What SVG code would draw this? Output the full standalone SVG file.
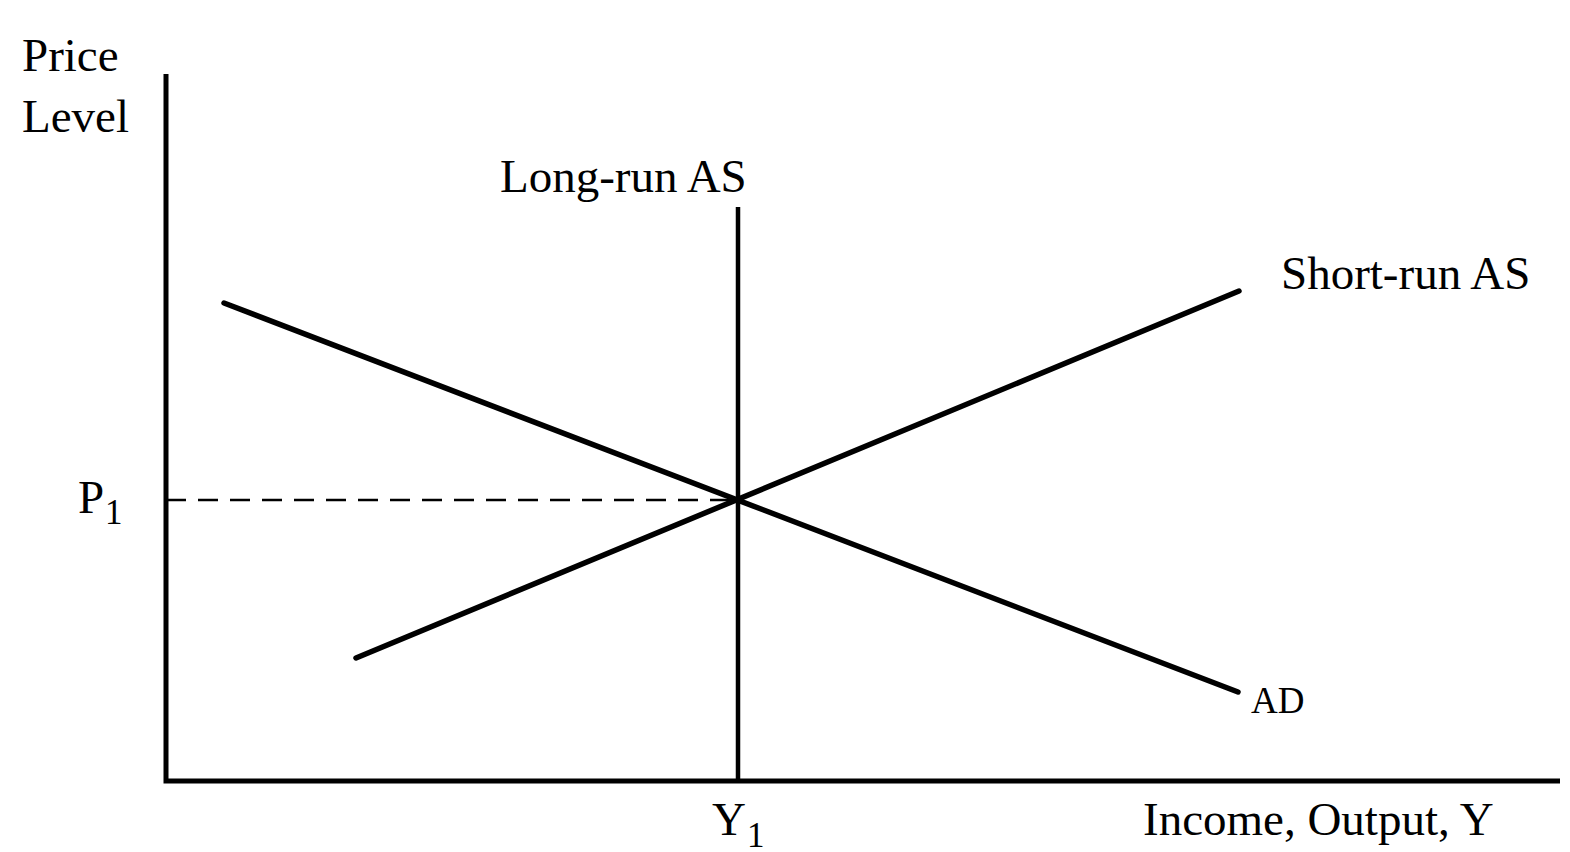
<svg xmlns="http://www.w3.org/2000/svg" width="1570" height="852" viewBox="0 0 1570 852">
<style>
text{font-family:"Liberation Serif","Times New Roman",serif;fill:#000}
.lbl{font-size:47px}
.sub{font-size:35px}
.ax{stroke:#000;stroke-width:5;fill:none}
.cv{stroke:#000;stroke-width:5.5;stroke-linecap:round;fill:none}
.ln{stroke:#000;stroke-width:4.5;fill:none}
</style>
<rect width="1570" height="852" fill="#fff"/>
<g id="connectors">
<path class="ax" d="M166,74 V781 H1560"/>
<line class="ln" x1="738" y1="207" x2="738" y2="781"/>
<line class="cv" x1="224" y1="303" x2="1238" y2="692"/>
<line class="cv" x1="356" y1="658" x2="1239" y2="291"/>
<line x1="166" y1="500" x2="737" y2="500" stroke="#000" stroke-width="2.5" stroke-dasharray="20,12"/>
</g>
<g id="axis-y-label"><text class="lbl" x="22" y="71">Price</text><text class="lbl" x="22" y="132">Level</text></g>
<g id="lras-label"><text class="lbl" x="500" y="192">Long-run AS</text></g>
<g id="sras-label"><text class="lbl" x="1281" y="289">Short-run AS</text></g>
<g id="ad-label"><text x="1251" y="713" style="font-size:37px">AD</text></g>
<g id="p1-label"><text class="lbl" x="78" y="513">P</text><text class="sub" x="105" y="524">1</text></g>
<g id="y1-label"><text class="lbl" x="712" y="835">Y</text><text class="sub" x="747" y="847">1</text></g>
<g id="axis-x-label"><text class="lbl" x="1143" y="835">Income, Output, Y</text></g>
</svg>
